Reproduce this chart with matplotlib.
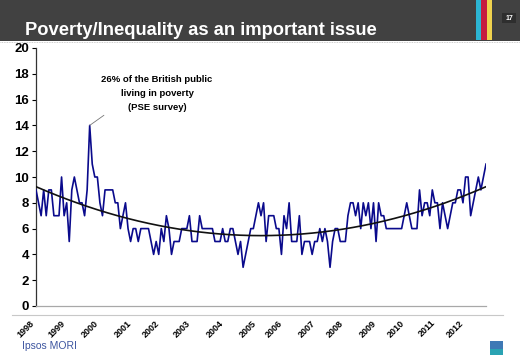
#!/usr/bin/env python3
"""
Poverty/Inequality as an important issue - Ipsos MORI issues index, 1998-2012.
"""
import numpy as np
import matplotlib
matplotlib.use('Agg')
import matplotlib.pyplot as plt
from matplotlib.patches import Rectangle
from matplotlib.lines import Line2D

plt.rcParams['font.family'] = ['Liberation Sans', 'DejaVu Sans']

# Share (%) naming poverty/inequality as an important issue, one value per survey
share = [
    9, 8, 7, 9, 7, 9, 9, 7, 7, 7, 10, 7, 8, 5, 9, 10, 9, 8, 8, 7,
    9, 14, 11, 10, 10, 8, 7, 9, 9, 9, 9, 8, 8, 6, 7, 8, 6, 5, 6, 6,
    5, 6, 6, 6, 6, 5, 4, 5, 4, 6, 5, 7, 6, 4, 5, 5, 5, 6, 6, 6,
    7, 5, 5, 5, 7, 6, 6, 6, 6, 6, 5, 5, 5, 6, 5, 5, 6, 6, 5, 4,
    5, 3, 4, 5, 6, 6, 7, 8, 7, 8, 5, 7, 7, 7, 6, 6, 4, 7, 6, 8,
    5, 5, 5, 7, 4, 5, 5, 5, 4, 5, 5, 6, 5, 6, 5, 3, 5, 6, 6, 5,
    5, 5, 7, 8, 8, 7, 8, 6, 8, 7, 8, 6, 8, 5, 8, 7, 7, 6, 6, 6,
    6, 6, 6, 6, 7, 8, 7, 6, 6, 6, 9, 7, 8, 8, 7, 9, 8, 8, 6, 8,
    7, 6, 7, 8, 8, 9, 9, 8, 10, 10, 7, 8, 9, 10, 9, 10, 11,
]
# survey index where each year starts
year_pos = [0, 12, 25, 38, 49, 61, 74, 87, 97, 110, 121, 134, 145, 157, 168]
year_labels = [str(y) for y in range(1998, 2013)]

annotation = '26% of the British public\nliving in poverty\n(PSE survey)'
title = 'Poverty/Inequality as an important issue'

W, H = 520, 358
fig = plt.figure(figsize=(W / 100, H / 100), dpi=100)
fig.patch.set_facecolor('white')


def px(x0, y0, x1, y1):
    # pixel box (top-left origin) -> figure fraction rect
    return [x0 / W, 1 - y1 / H, (x1 - x0) / W, (y1 - y0) / H]


# header band
fig.patches.append(Rectangle((0, 1 - 41 / H), 1, 41 / H, transform=fig.transFigure,
                             facecolor='#414141', edgecolor='none', zorder=0))
for x0, x1, c in [(476, 481, '#2cb5d3'), (481, 487, '#c61a3f'), (487, 492, '#efd24e')]:
    fig.patches.append(Rectangle((x0 / W, 1 - 40 / H), (x1 - x0) / W, 40 / H,
                                 transform=fig.transFigure, facecolor=c, edgecolor='none'))
fig.patches.append(Rectangle((502 / W, 1 - 23 / H), 14 / W, 10 / H, transform=fig.transFigure,
                             facecolor='#2e2e2e', edgecolor='none'))
fig.text(509 / W, 1 - 18 / H, '17', color='white', fontsize=5, fontweight='bold',
         ha='center', va='center')
fig.text(25 / W, 1 - 35 / H, title, color='white', fontsize=13.2, fontweight='bold',
         ha='left', va='baseline')
fig.lines.append(Line2D([0, 1], [1 - 41.5 / H] * 2, transform=fig.transFigure,
                        color='#bbbbbb', lw=0.6, ls=(0, (1, 1))))

# footer elements
fig.lines.append(Line2D([12 / W, 503 / W], [1 - 315 / H] * 2, transform=fig.transFigure,
                        color='#c8c8c8', lw=0.8))
fig.text(22 / W, 1 - 349 / H, 'Ipsos MORI', color='#3d55a0', fontsize=7.5,
         ha='left', va='baseline')
fig.patches.append(Rectangle((490 / W, 1 - 355 / H), 13 / W, 14 / H, transform=fig.transFigure,
                             facecolor='#3f79b5', edgecolor='none'))
fig.patches.append(Rectangle((490 / W, 1 - 355 / H), 13 / W, 6 / H, transform=fig.transFigure,
                             facecolor='#2aa3b3', edgecolor='none'))

# chart
ax = fig.add_axes(px(36, 48, 486, 306))
x = np.arange(len(share))
y = np.array(share, dtype=float)
ax.plot(x, y, color='#0a0a8c', lw=1.2, zorder=3)

# 2nd order polynomial trend line
coef = np.polyfit(x, y, 2)
ax.plot(x, np.polyval(coef, x), color='#111111', lw=1.2, zorder=4)

ax.set_xlim(0, len(share) - 1)
ax.set_ylim(0, 20)
ax.set_yticks(range(0, 21, 2))
ax.tick_params(axis='y', direction='out', length=3, width=0.8, pad=2, labelsize=9.5)
for lbl in ax.get_yticklabels():
    lbl.set_fontweight('bold')
ax.set_xticks(year_pos)
ax.set_xticklabels(year_labels, rotation=45, ha='right', fontsize=6.5, fontweight='bold')
ax.tick_params(axis='x', length=0, pad=9)

for side in ['top', 'right']:
    ax.spines[side].set_visible(False)
ax.spines['left'].set_color('#333333')
ax.spines['left'].set_linewidth(0.9)
ax.spines['bottom'].set_color('#a8a8a8')
ax.spines['bottom'].set_linewidth(0.9)

peak = int(np.argmax(y))
ax.annotate(annotation, xy=(peak, y[peak]), xytext=(157, H - 75), textcoords='figure pixels',
            ha='center', va='top', fontsize=6.8, fontweight='bold', linespacing=1.75,
            arrowprops=dict(arrowstyle='-', color='#777777', lw=0.6,
                            shrinkA=0, shrinkB=0, relpos=(0.2, 0.3)))

fig.savefig('out.png', dpi=100)
